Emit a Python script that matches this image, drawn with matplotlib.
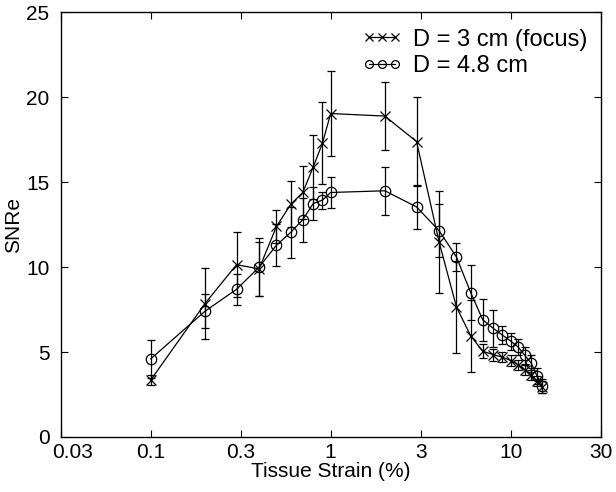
import matplotlib
matplotlib.use('Agg')
import matplotlib.pyplot as plt
import matplotlib.transforms as mtransforms
from matplotlib.ticker import NullLocator, FixedLocator, FixedFormatter

# ---- data ----
strain = [0.1, 0.2, 0.3, 0.4, 0.5, 0.6, 0.7, 0.8, 0.9, 1, 2, 3, 4, 5, 6, 7, 8, 9, 10, 11, 12, 13, 14, 15]

snr_3cm = [3.35, 7.85, 10.15, 9.9, 12.4, 13.7, 14.4, 15.9, 17.3, 19.05, 18.9, 17.4, 11.5, 7.65, 5.95,
           5.05, 4.85, 4.7, 4.5, 4.25, 3.95, 3.65, 3.3, 2.95]
err_3cm = [0.3, 2.1, 1.9, 1.6, 0.95, 1.35, 1.55, 1.9, 2.4, 2.5, 2.0, 2.6, 3.0, 2.7, 2.1,
           0.4, 0.35, 0.3, 0.3, 0.3, 0.3, 0.3, 0.3, 0.35]

snr_48cm = [4.6, 7.4, 8.7, 10.0, 11.3, 12.05, 12.8, 13.75, 13.95, 14.4, 14.5, 13.55, 12.15, 10.6, 8.5,
            6.9, 6.4, 6.0, 5.65, 5.3, 4.8, 4.35, 3.6, 3.0]
err_48cm = [1.1, 1.0, 0.9, 1.7, 1.25, 1.5, 1.3, 0.95, 0.5, 0.9, 1.4, 1.3, 1.55, 0.8, 1.6,
            1.25, 1.1, 0.55, 0.5, 0.5, 0.5, 0.5, 0.45, 0.4]

labels = ['D = 3 cm (focus)', 'D = 4.8 cm']
xtick_vals = [10 ** -1.5, 10 ** -1, 10 ** -0.5, 1, 10 ** 0.5, 10, 10 ** 1.5]
xtick_labels = ['0.03', '0.1', '0.3', '1', '3', '10', '30']
ytick_vals = [0, 5, 10, 15, 20, 25]

plt.rcParams['font.family'] = ['Liberation Sans', 'DejaVu Sans']
FS = 15

fig = plt.figure(figsize=(6.16, 4.92), dpi=100)
ax = fig.add_axes([0.0985, 0.1118, 0.8766, 0.8628])
ax.set_xscale('log')

lw = 0.9
h1 = ax.errorbar(strain, snr_3cm, yerr=err_3cm, fmt='-x', color='k', lw=lw, ms=7.5, mew=lw,
                 elinewidth=lw, capsize=2.6, capthick=lw)
h2 = ax.errorbar(strain, snr_48cm, yerr=err_48cm, fmt='-o', color='k', mfc='none', lw=lw, ms=7.5,
                 mew=lw, elinewidth=lw, capsize=2.6, capthick=lw)

ax.set_xlim(10 ** -1.5, 10 ** 1.5)
ax.set_ylim(0, 25)
ax.xaxis.set_major_locator(FixedLocator(xtick_vals))
ax.xaxis.set_major_formatter(FixedFormatter(xtick_labels))
ax.xaxis.set_minor_locator(NullLocator())
ax.set_yticks(ytick_vals)

ax.tick_params(which='both', direction='in', top=True, right=True, length=5, width=0.8,
               labelsize=FS)
ax.tick_params(axis='x', pad=4)
ax.tick_params(axis='y', pad=8)
for s in ax.spines.values():
    s.set_linewidth(1.0)

ax.set_xlabel('Tissue Strain (%)', fontsize=FS, labelpad=0)
ax.set_ylabel('SNRe', fontsize=FS)
ax.yaxis.set_label_coords(-0.07, 0.5)

# shift the first x tick label ("0.03") a little to the right, as in the reference
first = ax.get_xticklabels()[0]
first.set_transform(first.get_transform() + mtransforms.ScaledTranslation(12 / 100, 0, fig.dpi_scale_trans))

leg = ax.legend([h1[0], h2[0]], labels, loc='upper left', frameon=False, fontsize=17,
                numpoints=3, markerscale=0.75, handlelength=1.7, handletextpad=0.45,
                labelspacing=0.2, borderpad=0, borderaxespad=0,
                bbox_to_anchor=(0.558, 0.962))

fig.savefig('out.png', dpi=100)
